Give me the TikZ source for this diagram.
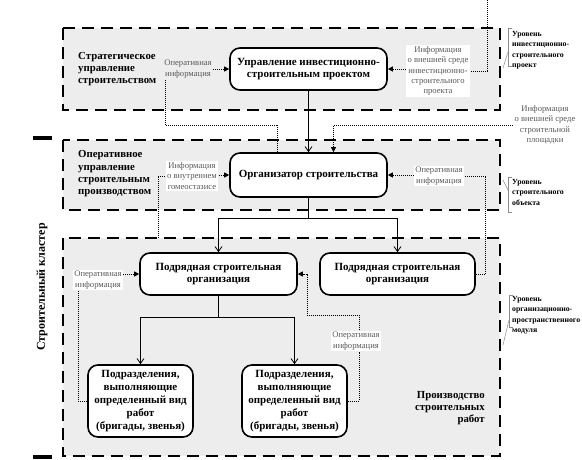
\documentclass[tikz,border=0pt]{standalone}
\usepackage{fontspec}
\setmainfont{Liberation Serif}
\usetikzlibrary{arrows.meta,calc}
\begin{document}
\begin{tikzpicture}[x=1pt,y=-1pt,
  region/.style={draw, dash pattern=on 12pt off 7pt, line width=2.5pt, fill=black!7},
  unit/.style={draw, line width=1.6pt, rounded corners=10pt, fill=white, align=center,
     font=\bfseries\fontsize{11}{12.8}\selectfont, inner sep=2pt},
  info/.style={align=center, text=black!65, font=\fontsize{8.6}{10.4}\selectfont, inner sep=1.5pt},
  infow/.style={info, fill=white},
  lvl/.style={align=left, font=\bfseries\fontsize{7.8}{10.5}\selectfont, inner sep=1pt, anchor=north west},
  area/.style={align=left, font=\bfseries\fontsize{10.8}{12.3}\selectfont, inner sep=0pt},
  sol/.style={line width=0.8pt, -{Straight Barb[length=5pt,width=7pt]}},
  solp/.style={line width=0.8pt},
  dot/.style={densely dotted, line width=1pt},
  darr/.style={dot, -{Triangle[length=5pt,width=5pt]}},
  call/.style={draw=black!45, line width=0.5pt},
  brk/.style={line width=3.5pt}
]
\useasboundingbox (0,0) rectangle (582,459);

% regions
\draw[region] (63,28) rectangle (500,110);
\draw[region] (63,140) rectangle (500,210);
\draw[region] (63,238) rectangle (500,456);

% cluster bracket
\draw[brk] (33,138) -- (52,138);
\draw[brk] (33,457) -- (52,457);
\node[rotate=90, font=\bfseries\fontsize{12}{14}\selectfont] (cl) at (42,287) {Строительный кластер};

% area labels
\node[area, anchor=west] (a1) at (78,69) {Стратегическое\\управление\\строительством};
\node[area, anchor=west] (a2) at (78,174) {Оперативное\\управление\\строительным\\производством};
\node[area, anchor=east, align=right] (a3) at (485,408) {Производство\\строительных\\работ};

% units
\node[unit, minimum width=157pt, minimum height=42pt] (n1) at (308.5,69) {Управление инвестиционно-\\строительным проектом};
\node[unit, minimum width=157pt, minimum height=44pt] (n2) at (308.5,175) {Организатор строительства};
\node[unit, minimum width=157pt, minimum height=42pt] (n3) at (218.5,274) {Подрядная строительная\\организация};
\node[unit, minimum width=155pt, minimum height=42pt] (n4) at (397.5,274) {Подрядная строительная\\организация};
\node[unit, minimum width=105pt, minimum height=72pt] (n5) at (140.5,401) {Подразделения,\\выполняющие\\определенный вид\\работ\\(бригады, звенья)};
\node[unit, minimum width=105pt, minimum height=72pt] (n6) at (294.5,401) {Подразделения,\\выполняющие\\определенный вид\\работ\\(бригады, звенья)};

% level labels
\node[lvl] (v1) at (511,30) {Уровень\\инвестиционно-\\строительного\\проект};
\node[lvl] (v2) at (511,178) {Уровень\\строительного\\объекта};
\node[lvl] (v3) at (511,295) {Уровень\\организационно-\\пространственного\\модуля};
\draw[call] (512,28) -- (508,28) -- (508,66) -- (512,66);
\draw[call] (508,52) -- (503,68);
\draw[call] (512,177) -- (508,177) -- (508,212) -- (512,212);
\draw[call] (508,190) -- (503,180);
\draw[call] (513,295) -- (509,295) -- (509,327) -- (513,327);
\draw[call] (509,320) -- (503,345);

% info labels
\node[info] (l1) at (188,69) {Оперативная\\информация};
\node[infow] (l2) at (438,71) {Информация\\о внешней среде\\инвестиционно-\\строительного\\проекта};
\node[info] (l3) at (545,125) {Информация\\о внешней среде\\строительной\\площадки};
\node[infow] (l4) at (192,176) {Информация\\о внутреннем\\гомеостазисе};
\node[infow] (l5) at (439,176) {Оперативная\\информация};
\node[infow] (l6) at (98,280) {Оперативная\\информация};
\node[infow] (l7) at (356,341) {Оперативная\\информация};

% solid connectors
\coordinate (j1) at (308.5,218);
\coordinate (j2) at (218.5,317);
\draw[sol] (n1) -- (n2);
\draw[solp] (n2) -- (j1);
\draw[sol] (j1) -| (n3.north);
\draw[sol] (j1) -| (n4.north);
\draw[solp] (n3) -- (j2);
\draw[sol] (j2) -| (n5.north);
\draw[sol] (j2) -| (n6.north);

% dotted connectors
\coordinate (c1) at (165,125);
\draw[dot] ([xshift=-31pt]n2.north) |- (c1) -- (c1 |- l1.south);
\draw[darr] (l1.east |- n1.west) -- (n1.west);

\coordinate (t2) at (487,0);
\draw[dot] (t2) |- (l2.east);
\draw[darr] (l2.west |- n1.east) -- (n1.east);

\draw[darr] (l3.west) -| ([xshift=25pt]n2.north);

\coordinate (c4) at (158,238);
\draw[dot] (c4) |- (l4.west);
\draw[darr] (l4.east |- n2.west) -- (n2.west);

\draw[dot] (n4.east) -- ++(10,0) |- (l5.east);
\draw[darr] (l5.west |- n2.east) -- (n2.east);

\draw[dot] (n5.west) -| ([xshift=-20pt]l6.south);
\draw[darr] (l6.east |- n3.west) -- (n3.west);

\coordinate (c7) at (307,315);
\draw[dot] (n6.east) -| ([xshift=3pt]l7.south);
\draw[darr] ([xshift=3pt]l7.north) |- (c7) |- (n3.east);
\end{tikzpicture}
\end{document}
